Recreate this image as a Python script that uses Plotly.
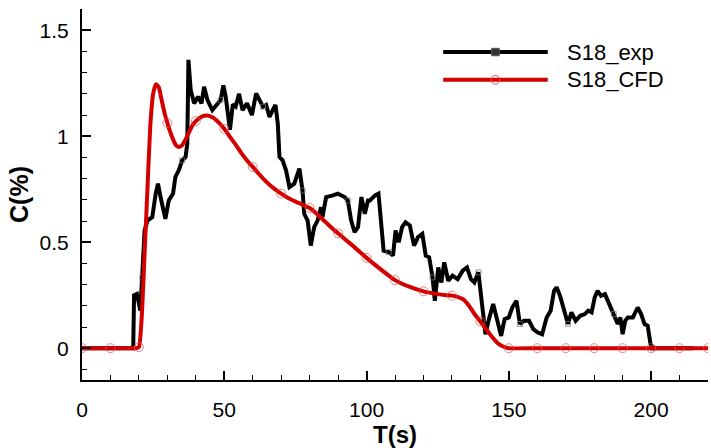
import plotly.graph_objects as go

# ---- data ----
t_exp = [0, 10, 18, 18.3, 19.3, 20.5, 21.2, 22, 23, 24.7, 25.9, 26.7, 27.6, 29.3, 30.5, 32, 32.8, 34, 35.2,
         36.4, 37, 37.4, 38.2, 39.4, 40.8, 42, 42.9, 44.1, 45.8, 47.6, 48.7, 49.7, 50.5, 52, 53, 54,
         55.2, 56.4, 58, 59.7, 61.2, 62.4, 63.6, 64.7, 65.9, 67, 68, 68.8, 69.4, 70.5, 71.7, 72.9, 74.6,
         76.4, 77.5, 78.1, 79.3, 80.4, 81.6, 82.8, 84, 84.5, 85.8, 88.2, 89.9, 92.3, 93.4, 94.6, 95.8,
         97, 98.2, 99.4, 100.5, 101.2, 103, 104.2, 105, 106, 107.8, 109.3, 110.2, 111.3, 112.5, 113.7,
         115.2, 116.7, 118.1, 119.6, 120.8, 122, 123.2, 124, 125.2, 126.3, 127.3, 128.7, 130.2, 132,
         133.8, 135.3, 136.7, 137.9, 139.3, 140.3, 141, 141.8, 143, 144.5, 145.7, 147.3, 148.5, 150,
         151.2, 152.7, 153.9, 155.3, 157.1, 158.6, 160.2, 161.7, 163.3, 164.7, 165.9, 166.8, 168, 169.4,
         170.8, 172, 173.5, 175.1, 176.7, 177.9, 179.1, 180.2, 181.2, 182.4, 183.8, 185.3, 186.9, 188.3,
         189.2, 190, 190.9, 191.8, 193.6, 195.3, 196.5, 197.7, 198.8, 199.8, 200.6, 210, 215]
c_exp = [0, 0, 0, 0.25, 0.256, 0.177, 0.334, 0.555, 0.602, 0.618, 0.729, 0.776, 0.713, 0.61, 0.697, 0.729,
         0.807, 0.839, 0.886, 0.902, 0.965, 1.36, 1.218, 1.155, 1.186, 1.155, 1.233, 1.17, 1.123, 1.155,
         1.17, 1.24, 1.186, 1.03, 1.15, 1.14, 1.2, 1.123, 1.155, 1.1, 1.202, 1.17, 1.139, 1.147, 1.091,
         1.123, 1.147, 1.06, 0.902, 0.886, 0.839, 0.76, 0.776, 0.847, 0.744, 0.634, 0.602, 0.484, 0.571,
         0.602, 0.665, 0.618, 0.713, 0.721, 0.729, 0.713, 0.697, 0.602, 0.547, 0.571, 0.713, 0.634, 0.697,
         0.697, 0.721, 0.729, 0.602, 0.46, 0.453, 0.437, 0.555, 0.5, 0.571, 0.594, 0.579, 0.484, 0.524,
         0.539, 0.437, 0.429, 0.334, 0.224, 0.381, 0.31, 0.405, 0.318, 0.342, 0.326, 0.366, 0.381, 0.326,
         0.31, 0.358, 0.24, 0.14, 0.066, 0.137, 0.208, 0.145, 0.058, 0.137, 0.145, 0.192, 0.224, 0.114,
         0.129, 0.129, 0.09, 0.074, 0.066, 0.145, 0.177, 0.271, 0.287, 0.247, 0.185, 0.114, 0.169, 0.129,
         0.153, 0.161, 0.177, 0.169, 0.24, 0.271, 0.247, 0.255, 0.208, 0.161, 0.114, 0.145, 0.066, 0.129,
         0.145, 0.145, 0.192, 0.161, 0.114, 0.106, 0.019, 0, 0, 0]

t_cfd = [0, 10, 19, 20, 21, 22, 23, 24, 25, 26, 27, 28, 29, 30, 31, 32, 33, 34, 35, 36, 37, 38, 39, 40,
         42, 44, 46, 48, 50, 52, 54, 56, 58, 60, 62, 64, 66, 68, 70, 72, 74, 76, 78, 80, 82, 84, 86, 88,
         90, 95, 100, 105, 110, 115, 120, 125, 128, 130, 132, 134, 136, 138, 140, 142, 144, 146, 148, 150,
         160, 170, 180, 190, 200, 210, 220]
c_cfd = [0, 0, 0, 0.005, 0.15, 0.45, 0.75, 1.05, 1.2, 1.245, 1.23, 1.17, 1.11, 1.063, 1.02, 0.985, 0.958,
         0.949, 0.955, 0.975, 1.0, 1.03, 1.055, 1.071, 1.092, 1.098, 1.088, 1.065, 1.035, 0.997, 0.96,
         0.92, 0.885, 0.855, 0.825, 0.795, 0.77, 0.748, 0.729, 0.712, 0.698, 0.686, 0.674, 0.661, 0.64,
         0.615, 0.59, 0.565, 0.542, 0.485, 0.426, 0.372, 0.321, 0.29, 0.268, 0.255, 0.25, 0.248, 0.242,
         0.23, 0.2, 0.16, 0.126, 0.09, 0.055, 0.025, 0.008, 0, 0, 0, 0, 0, 0, 0, 0]

series_names = ["S18_exp", "S18_CFD"]
x_ticks = [0, 50, 100, 150, 200]
y_ticks = [0, 0.5, 1, 1.5]

RED = "#d40000"
FONT = "Liberation Sans, Arial, sans-serif"
LW = 4

exp_marker_size = [5 if i % 12 == 6 else 0 for i in range(len(t_exp))]
cfd_marker_size = [9 if (t % 10 == 0) else 0 for t in t_cfd]

fig = go.Figure()
fig.add_trace(go.Scatter(
    x=t_exp, y=c_exp, mode="lines+markers", name=series_names[0],
    line=dict(color="black", width=LW),
    marker=dict(symbol="square-open", size=exp_marker_size, color="#777777", line=dict(width=1, color="#777777")),
    showlegend=False))
fig.add_trace(go.Scatter(
    x=t_cfd, y=c_cfd, mode="lines", name=series_names[1],
    line=dict(color=RED, width=LW, shape="spline", smoothing=0.5),
    showlegend=False))
fig.add_trace(go.Scatter(
    x=t_cfd, y=c_cfd, mode="markers", name=series_names[1],
    marker=dict(symbol="circle-open", size=cfd_marker_size, color="#e85050", line=dict(width=1, color="#e85050")),
    showlegend=False, hoverinfo="skip"))

# custom legend (Tecplot style, long line samples)
leg_x0, leg_x1, leg_tx = 0.577, 0.744, 0.771
leg_y = [0.884, 0.809]
leg_col = ["black", RED]
shapes = []
annotations = []
for name, yy, col in zip(series_names, leg_y, leg_col):
    shapes.append(dict(type="line", xref="paper", yref="paper", x0=leg_x0, x1=leg_x1, y0=yy, y1=yy,
                       line=dict(color=col, width=LW)))
    annotations.append(dict(xref="paper", yref="paper", x=leg_tx, y=yy, text=name, showarrow=False,
                            xanchor="left", yanchor="middle", font=dict(family=FONT, size=22, color="black")))
xm = (leg_x0 + leg_x1) / 2
shapes.append(dict(type="rect", xref="paper", yref="paper", x0=xm - 0.006, x1=xm + 0.006,
                   y0=leg_y[0] - 0.01, y1=leg_y[0] + 0.01, line=dict(color="#555555", width=1), fillcolor="#333333"))
shapes.append(dict(type="circle", xref="paper", yref="paper", x0=xm - 0.007, x1=xm + 0.007,
                   y0=leg_y[1] - 0.012, y1=leg_y[1] + 0.012, line=dict(color="#e85050", width=1)))

fig.update_layout(
    width=711, height=448,
    margin=dict(l=82, r=3, t=9, b=68),
    plot_bgcolor="white", paper_bgcolor="white",
    font=dict(family=FONT, size=21, color="black"),
    shapes=shapes, annotations=annotations,
    showlegend=False,
)
fig.update_xaxes(
    range=[0, 220], tickvals=x_ticks, ticks="inside", ticklen=9, tickwidth=1.5, tickcolor="black",
    showline=True, linecolor="black", linewidth=2, showgrid=False, zeroline=False,
    minor=dict(dtick=10, ticks="inside", ticklen=5, tickwidth=1, tickcolor="black", showgrid=False),
    ticklabelstandoff=10,
    tickfont=dict(size=21),
    title=dict(text="<b>T(s)</b>", font=dict(family=FONT, size=24), standoff=0),
)
fig.update_yaxes(
    range=[-0.15, 1.6], tickvals=y_ticks, ticks="inside", ticklen=9, tickwidth=1.5, tickcolor="black",
    showline=True, linecolor="black", linewidth=2, showgrid=False, zeroline=False,
    minor=dict(dtick=0.1, ticks="inside", ticklen=5, tickwidth=1, tickcolor="black", showgrid=False),
    ticklabelstandoff=7,
    tickfont=dict(size=21),
    title=dict(text="<b>C(%)</b>", font=dict(family=FONT, size=25), standoff=4),
)

fig.write_html("out.html")
